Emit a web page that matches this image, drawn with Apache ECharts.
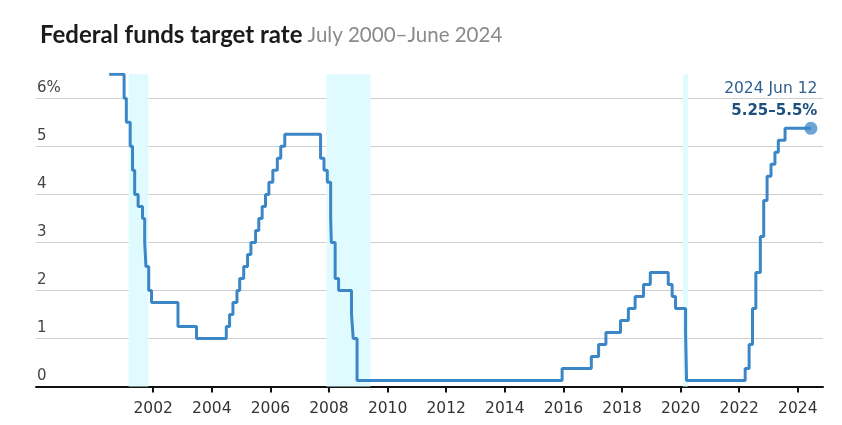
<!DOCTYPE html>
<html>
<head>
<meta charset="utf-8">
<script src="https://cdn.jsdelivr.net/npm/echarts@6/dist/echarts.min.js"></script>
<style>
  html, body { margin: 0; padding: 0; background: #fff; }
  #chart { width: 842px; height: 425px; }
</style>
</head>
<body>
<div id="chart"></div>
<script>
// Effective dates of target changes and the rate (single target, or midpoint of the range after Dec 2008)
const rateDates = [
  '2000-07-01','2001-01-03','2001-01-31','2001-03-20','2001-04-18','2001-05-15','2001-06-27',
  '2001-08-21','2001-09-17','2001-10-02','2001-11-06','2001-12-11','2002-11-06','2003-06-25',
  '2004-06-30','2004-08-10','2004-09-21','2004-11-10','2004-12-14','2005-02-02','2005-03-22',
  '2005-05-03','2005-06-30','2005-08-09','2005-09-20','2005-11-01','2005-12-13','2006-01-31',
  '2006-03-28','2006-05-10','2006-06-29','2007-09-18','2007-10-31','2007-12-11','2008-01-22',
  '2008-01-30','2008-03-18','2008-04-30','2008-10-08','2008-10-29','2008-12-16','2015-12-16',
  '2016-12-14','2017-03-15','2017-06-14','2017-12-13','2018-03-21','2018-06-13','2018-09-26',
  '2018-12-19','2019-07-31','2019-09-18','2019-10-30','2020-03-03','2020-03-15','2022-03-16',
  '2022-05-04','2022-06-15','2022-07-27','2022-09-21','2022-11-02','2022-12-14','2023-02-01',
  '2023-03-22','2023-05-03','2023-07-26','2024-06-12'
];
const rateValues = [
  6.5, 6.0, 5.5, 5.0, 4.5, 4.0, 3.75,
  3.5, 3.0, 2.5, 2.0, 1.75, 1.25, 1.0,
  1.25, 1.5, 1.75, 2.0, 2.25, 2.5, 2.75,
  3.0, 3.25, 3.5, 3.75, 4.0, 4.25, 4.5,
  4.75, 5.0, 5.25, 4.75, 4.5, 4.25, 3.5,
  3.0, 2.25, 2.0, 1.5, 1.0, 0.125, 0.375,
  0.625, 0.875, 1.125, 1.375, 1.625, 1.875, 2.125,
  2.375, 2.125, 1.875, 1.625, 1.125, 0.125, 0.375,
  0.875, 1.625, 2.375, 3.125, 3.875, 4.375, 4.625,
  4.875, 5.125, 5.375, 5.375
];
const recessionStarts = ['2001-03-01', '2007-12-01', '2020-02-01'];
const recessionEnds   = ['2001-11-01', '2009-06-01', '2020-04-01'];
const xTickYears = [2002, 2004, 2006, 2008, 2010, 2012, 2014, 2016, 2018, 2020, 2022, 2024];
const yTicks = [0, 1, 2, 3, 4, 5, 6];
const xStart = '1998-01-01';
const xEnd = '2024-11-10';
const lastLabelDate = '2024 Jun 12';
const lastLabelRange = '5.25–5.5%';

const TITLE_FONT = 'Lato, "Open Sans", sans-serif';
const FONT = '"DejaVu Sans", sans-serif';
const LINE_COLOR = '#3b86c6';

const t = s => new Date(s + 'T00:00:00Z').getTime();
const chart = echarts.init(document.getElementById('chart'), null, { renderer: 'canvas' });

const seriesData = rateDates.map((d, i) => [t(d), rateValues[i]]);
const lastIdx = rateDates.length - 1;
const tickTimes = xTickYears.map(y => Date.UTC(y, 0, 1));

const option = {
  animation: false,
  backgroundColor: '#ffffff',
  title: {
    left: 35,
    top: 18,
    text: '{a|Federal funds target rate} {b|July 2000–June 2024}',
    textStyle: {
      rich: {
        a: { fontFamily: TITLE_FONT, fontWeight: 'bold', fontSize: 24, color: '#1b1b1b' },
        b: { fontFamily: TITLE_FONT, fontWeight: 'normal', fontSize: 20.5, color: '#8a8a8a' }
      }
    }
  },
  grid: { left: 36, right: 19, top: 74.3, bottom: 38.5, containLabel: false },
  xAxis: {
    type: 'value',
    min: t(xStart),
    max: t(xEnd),
    axisLine: { show: true, onZero: false, lineStyle: { color: '#111', width: 2 } },
    axisTick: { show: true, customValues: tickTimes, length: 6, lineStyle: { color: '#111', width: 2 } },
    axisLabel: {
      customValues: tickTimes,
      formatter: v => String(new Date(v).getUTCFullYear()),
      fontFamily: FONT, fontSize: 15.5, color: '#333', margin: 14
    },
    splitLine: { show: false }
  },
  yAxis: {
    type: 'value',
    min: 0,
    max: 6.5,
    interval: 1,
    axisLine: { show: false },
    axisTick: { show: false },
    axisLabel: {
      customValues: yTicks,
      inside: true,
      margin: 1,
      verticalAlign: 'bottom',
      padding: [0, 0, 3, 0],
      formatter: v => (v === 6 ? '6%' : String(v)),
      fontFamily: FONT, fontSize: 15, color: '#444'
    },
    splitLine: { show: true, showMinLine: false, showMaxLine: false, lineStyle: { color: '#cfcfcf', width: 1 } }
  },
  series: [
    {
      type: 'line',
      name: 'recessions',
      z: 1,
      data: [],
      silent: true,
      markArea: {
        silent: true,
        itemStyle: { color: '#e0fbff' },
        data: recessionStarts.map((s, i) => [{ xAxis: t(s) }, { xAxis: t(recessionEnds[i]) }])
      }
    },
    {
      type: 'line',
      name: 'rate',
      z: 3,
      step: 'end',
      data: seriesData,
      showSymbol: false,
      lineStyle: { color: LINE_COLOR, width: 3 },
      markPoint: {
        silent: true,
        symbol: 'circle',
        symbolSize: 13,
        itemStyle: { color: 'rgba(59,134,198,0.75)' },
        data: [{
          coord: seriesData[lastIdx],
          label: {
            show: true,
            position: [13, 0],
            align: 'right',
            verticalAlign: 'bottom',
            formatter: '{a|' + lastLabelDate + '}\n{b|' + lastLabelRange + '}',
            rich: {
              a: { fontFamily: FONT, fontSize: 15.5, color: '#2d5f8f', lineHeight: 22, align: 'right' },
              b: { fontFamily: FONT, fontSize: 15, fontWeight: 'bold', color: '#1d4f7f', lineHeight: 22, align: 'right' }
            }
          }
        }]
      }
    }
  ]
};

chart.setOption(option);
</script>
</body>
</html>
